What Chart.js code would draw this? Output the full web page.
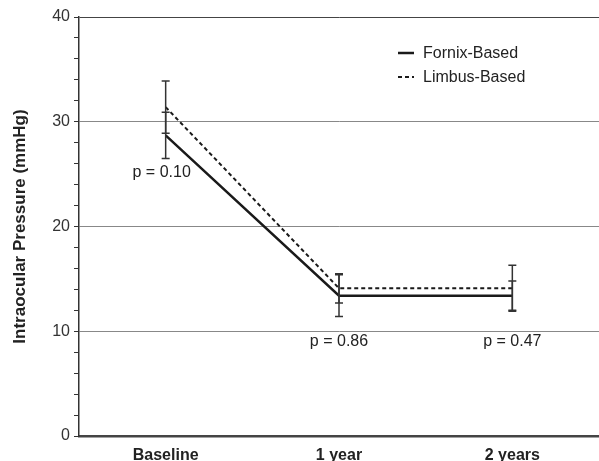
<!DOCTYPE html>
<html>
<head>
<meta charset="utf-8">
<script src="https://cdn.jsdelivr.net/npm/chart.js@4/dist/chart.umd.min.js"></script>
<style>
  html, body { margin: 0; padding: 0; background: #fff; }
  #wrap { width: 599px; height: 461px; }
</style>
</head>
<body>
<div id="wrap"><canvas id="iopChart"></canvas></div>
<script>
const categories = ['Baseline', '1 year', '2 years'];
const fornixMean = [28.7, 13.4, 13.4];
const fornixErr = [2.2, 2.0, 1.4];
const limbusMean = [31.4, 14.1, 14.1];
const limbusErr = [2.5, 1.4, 2.2];
const pLabels = ['p = 0.10', 'p = 0.86', 'p = 0.47'];
const pLabelY = [25.1, 9.0, 9.0];
const yTicks = [0, 10, 20, 30, 40];

const FONT = '"Liberation Sans", Arial, sans-serif';

// error bars, p values and the little legend
const extras = {
  id: 'extras',
  afterDatasetsDraw(chart) {
    const { ctx, scales: { x, y }, chartArea } = chart;
    ctx.save();
    ctx.strokeStyle = '#333';
    ctx.lineWidth = 1.5;
    chart.data.datasets.forEach(ds => {
      ds.data.forEach((v, i) => {
        const px = x.getPixelForValue(i);
        const top = y.getPixelForValue(v + ds.err[i]);
        const bot = y.getPixelForValue(v - ds.err[i]);
        ctx.beginPath();
        ctx.moveTo(px, top); ctx.lineTo(px, bot);
        ctx.moveTo(px - 4, top); ctx.lineTo(px + 4, top);
        ctx.moveTo(px - 4, bot); ctx.lineTo(px + 4, bot);
        ctx.stroke();
      });
    });

    ctx.fillStyle = '#222';
    ctx.font = '16px ' + FONT;
    ctx.textAlign = 'center';
    ctx.textBaseline = 'middle';
    pLabels.forEach((t, i) => {
      ctx.fillText(t, x.getPixelForValue(i) - (i === 0 ? 4 : 0), y.getPixelForValue(pLabelY[i]));
    });

    // legend
    const lx = chartArea.left + 319;
    ctx.font = '16px ' + FONT;
    ctx.textAlign = 'left';
    chart.data.datasets.forEach((ds, k) => {
      const ly = chartArea.top + 36 + k * 24;
      ctx.beginPath();
      ctx.setLineDash(ds.borderDash || []);
      ctx.lineWidth = ds.borderWidth;
      ctx.strokeStyle = ds.borderColor;
      ctx.moveTo(lx, ly); ctx.lineTo(lx + 16, ly);
      ctx.stroke();
      ctx.setLineDash([]);
      ctx.fillText(ds.label, lx + 25, ly + 1);
    });
    ctx.restore();
  }
};

new Chart(document.getElementById('iopChart'), {
  type: 'line',
  data: {
    labels: categories,
    datasets: [
      {
        label: 'Fornix-Based',
        data: fornixMean,
        err: fornixErr,
        borderColor: '#1a1a1a',
        borderWidth: 2.5,
        pointRadius: 0,
        tension: 0
      },
      {
        label: 'Limbus-Based',
        data: limbusMean,
        err: limbusErr,
        borderColor: '#1a1a1a',
        borderWidth: 2,
        borderDash: [4, 3],
        pointRadius: 0,
        tension: 0
      }
    ]
  },
  options: {
    responsive: true,
    maintainAspectRatio: false,
    animation: false,
    layout: { padding: { top: 17, right: 0, bottom: 0, left: 0 } },
    plugins: {
      legend: { display: false },
      tooltip: { enabled: false }
    },
    scales: {
      x: {
        offset: true,
        grid: { display: false },
        border: { color: '#444', width: 2.5 },
        ticks: {
          color: '#222',
          padding: 2,
          font: { family: FONT, size: 16, weight: 'bold' }
        },
        afterFit(s) { s.height = 25; }
      },
      y: {
        min: 0,
        max: 40,
        ticks: {
          stepSize: 2,
          color: '#333',
          padding: 4,
          autoSkip: false,
          font: { family: FONT, size: 16 },
          callback: v => yTicks.includes(v) ? v : ''
        },
        grid: {
          tickLength: 5,
          lineWidth: 1,
          color: c => c.tick && c.tick.value % 10 === 0 && c.tick.value > 0
            ? (c.tick.value === 40 ? '#444' : '#888') : 'rgba(0,0,0,0)',
          tickColor: '#333'
        },
        border: { color: '#333', width: 1.5 },
        title: {
          display: true,
          text: 'Intraocular Pressure (mmHg)',
          color: '#222',
          padding: { top: 10, bottom: 0 },
          font: { family: FONT, size: 17, weight: 'bold' }
        },
        afterFit(s) { s.width = 79; }
      }
    }
  },
  plugins: [extras]
});
</script>
</body>
</html>
